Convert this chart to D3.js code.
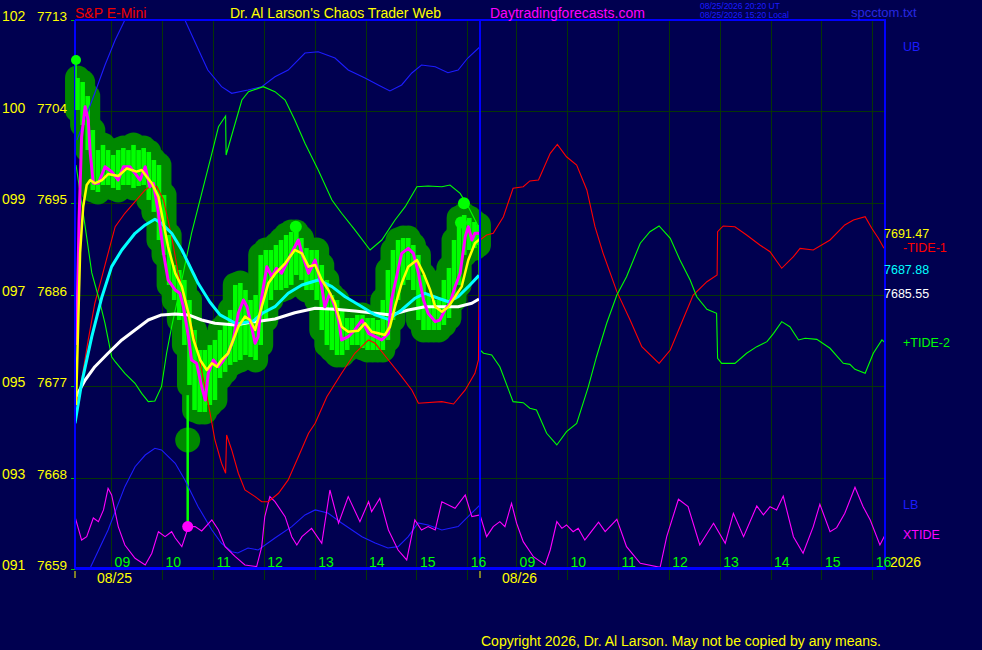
<!DOCTYPE html>
<html>
<head>
<meta charset="utf-8">
<script src="https://cdn.jsdelivr.net/npm/d3@7"></script>
<style>
  html, body { margin: 0; padding: 0; background: #000050; }
  svg { display: block; font-family: "Liberation Sans", Arial, sans-serif; }
</style>
</head>
<body>
<svg id="chart" width="982" height="650"></svg>
<script>
const width = 982;
const height = 650;
const plot = { left: 75, right: 885, top: 20, bottom: 569 };

// session clock: chart opens 08:17, each day shows 7.96 hours
const sessionOpen = 8.29;
const dayLength = 7.96;

const days = ["08/25", "08/26"];
const hours = [9, 10, 11, 12, 13, 14, 15, 16];
const priceTicks = [7713, 7704, 7695, 7686, 7677, 7668, 7659];
const pctTicks = ["102", "100", "099", "097", "095", "093", "091"];
const lastLabels = ["7691.47", "7687.88", "7685.55"];

// [session hours, price]
const ub = [[0.04,7701.2],[0.39,7705.82],[0.59,7708.57],[0.79,7711.03],[0.98,7713.0],[1.28,7715.46],[1.67,7715.95],[2.16,7713.0],[2.49,7709.39],[2.61,7708.08],[2.88,7706.44],[3.08,7705.79],[3.40,7706.12],[3.67,7706.44],[3.93,7707.42],[4.19,7708.08],[4.52,7709.75],[4.78,7709.88],[5.11,7709.26],[5.37,7708.08],[5.70,7707.29],[5.96,7706.61],[6.19,7706.02],[6.42,7706.61],[6.62,7707.79],[6.81,7708.57],[7.08,7708.41],[7.33,7707.82],[7.53,7708.08],[7.72,7709.26],[7.96,7710.37]];

const lb = [[0.25,7658.71],[0.31,7659.23],[0.65,7662.84],[0.98,7667.10],[1.18,7669.06],[1.38,7670.21],[1.57,7670.87],[1.70,7670.71],[1.97,7669.40],[2.16,7667.76],[2.42,7665.13],[2.69,7662.84],[2.88,7661.53],[3.08,7660.70],[3.20,7660.58],[3.40,7661.07],[3.60,7660.87],[3.93,7662.05],[4.26,7663.17],[4.52,7664.32],[4.72,7664.81],[4.97,7664.51],[5.24,7663.53],[5.64,7662.18],[5.90,7661.56],[6.15,7661.07],[6.35,7661.20],[6.55,7662.18],[6.74,7663.53],[6.94,7663.33],[7.21,7662.84],[7.53,7663.17],[7.80,7664.51],[7.96,7665.30]];

const tide1 = [[0,7674.64],[0.13,7677.59],[0.26,7681.53],[0.39,7685.14],[0.53,7687.75],[0.65,7690.05],[0.79,7692.67],[0.98,7693.99],[1.18,7695.13],[1.38,7696.28],[1.51,7696.77],[1.61,7696.60],[1.74,7695.30],[1.90,7691.69],[2.03,7688.09],[2.23,7684.15],[2.42,7680.22],[2.62,7675.30],[2.75,7671.69],[2.88,7669.40],[2.96,7668.42],[2.98,7672.18],[3.08,7670.71],[3.21,7668.42],[3.34,7666.77],[3.54,7666.12],[3.67,7665.62],[3.80,7665.62],[4.00,7666.45],[4.19,7667.76],[4.39,7670.05],[4.59,7672.35],[4.72,7673.33],[4.95,7675.95],[5.24,7678.25],[5.50,7680.22],[5.77,7681.53],[5.90,7681.20],[6.16,7679.56],[6.42,7677.92],[6.62,7676.61],[6.75,7675.30],[7.21,7675.46],[7.44,7675.23],[7.67,7676.61],[7.86,7678.25],[7.93,7679.56],[7.95,7691.69],[7.96,7691.36],[8.09,7691.85],[8.22,7692.02],[8.42,7693.65],[8.61,7696.45],[8.81,7696.60],[8.94,7697.17],[9.11,7697.26],[9.34,7699.89],[9.48,7700.77],[9.66,7699.55],[9.86,7698.74],[10.06,7696.28],[10.22,7692.67],[10.38,7690.05],[10.65,7686.28],[10.91,7683.49],[11.14,7680.87],[11.48,7679.23],[11.70,7680.54],[11.89,7682.83],[12.15,7685.95],[12.42,7687.26],[12.62,7687.92],[12.63,7692.18],[12.74,7692.74],[12.97,7692.67],[13.20,7691.85],[13.46,7690.87],[13.66,7690.21],[13.89,7688.58],[14.12,7689.72],[14.25,7690.54],[14.51,7690.38],[14.84,7691.36],[15.13,7692.84],[15.30,7693.33],[15.53,7693.65],[15.66,7692.51],[15.79,7691.53],[15.90,7690.54]];

const tide2 = [[0.02,7698.74],[0.20,7692.67],[0.33,7688.12],[0.46,7685.78],[0.59,7683.17],[0.72,7679.88],[0.79,7679.39],[0.98,7678.25],[1.18,7677.27],[1.31,7676.28],[1.44,7675.46],[1.57,7675.53],[1.70,7676.93],[1.80,7680.22],[1.90,7682.83],[2.10,7687.43],[2.29,7692.02],[2.49,7695.95],[2.69,7699.89],[2.82,7702.50],[2.96,7703.56],[2.97,7699.72],[3.11,7702.18],[3.28,7705.13],[3.41,7705.95],[3.70,7706.44],[3.93,7705.95],[4.13,7705.13],[4.32,7703.16],[4.52,7700.87],[4.78,7698.25],[5.05,7695.30],[5.24,7693.99],[5.50,7692.35],[5.80,7690.38],[6.03,7691.36],[6.29,7693.33],[6.49,7694.64],[6.72,7696.60],[6.94,7696.67],[7.21,7696.60],[7.37,7696.77],[7.57,7695.95],[7.73,7694.64],[7.93,7692.67],[7.96,7680.54],[8.03,7680.22],[8.19,7680.05],[8.35,7678.90],[8.61,7675.46],[8.81,7675.36],[8.94,7674.81],[9.07,7674.64],[9.27,7672.35],[9.47,7671.20],[9.66,7672.51],[9.86,7673.33],[10.09,7676.93],[10.25,7679.88],[10.45,7683.17],[10.65,7685.95],[10.84,7687.75],[11.11,7691.04],[11.30,7692.18],[11.48,7692.74],[11.70,7691.53],[11.89,7689.39],[12.09,7687.43],[12.22,7685.78],[12.42,7684.54],[12.61,7684.15],[12.63,7679.73],[12.71,7679.23],[12.97,7679.23],[13.20,7680.22],[13.40,7680.87],[13.60,7681.36],[13.73,7682.18],[13.89,7683.33],[14.05,7682.83],[14.22,7681.53],[14.35,7681.69],[14.58,7681.59],[14.84,7680.71],[15.10,7679.23],[15.23,7679.13],[15.33,7678.64],[15.53,7678.25],[15.69,7680.22],[15.86,7681.53],[15.92,7681.26]];

const xtide = [[0,7664.15],[0.13,7661.85],[0.23,7662.18],[0.36,7664.02],[0.46,7663.66],[0.56,7664.81],[0.65,7666.94],[0.72,7666.28],[0.85,7663.17],[0.98,7661.36],[1.18,7660.05],[1.38,7659.40],[1.51,7660.55],[1.64,7662.67],[1.77,7662.18],[1.90,7662.67],[1.97,7662.05],[2.10,7661.20],[2.23,7663.17],[2.36,7663.17],[2.49,7662.74],[2.69,7663.82],[2.82,7662.84],[2.95,7661.20],[3.15,7660.21],[3.34,7659.40],[3.57,7659.23],[3.67,7661.20],[3.73,7664.15],[3.83,7666.12],[3.93,7665.62],[4.13,7664.15],[4.26,7662.18],[4.36,7661.36],[4.46,7662.18],[4.65,7663.00],[4.85,7661.53],[5.01,7666.77],[5.18,7663.50],[5.37,7666.12],[5.60,7663.66],[5.77,7665.62],[5.83,7664.64],[5.99,7665.95],[6.16,7662.84],[6.35,7660.87],[6.52,7659.89],[6.68,7663.82],[6.81,7662.84],[6.94,7663.17],[7.08,7662.84],[7.21,7665.62],[7.47,7664.97],[7.67,7666.28],[7.80,7664.15],[7.96,7664.32],[8.09,7662.18],[8.22,7663.17],[8.35,7663.66],[8.45,7663.17],[8.58,7665.46],[8.68,7663.50],[8.81,7661.69],[9.01,7660.21],[9.24,7659.40],[9.34,7660.87],[9.47,7663.66],[9.57,7663.00],[9.66,7663.33],[9.79,7662.67],[9.89,7663.00],[10.02,7661.85],[10.12,7662.51],[10.29,7663.60],[10.42,7662.67],[10.65,7663.89],[10.84,7661.20],[11.11,7659.56],[11.50,7659.17],[11.63,7662.18],[11.86,7665.86],[12.05,7665.13],[12.28,7661.36],[12.55,7663.50],[12.78,7661.53],[12.94,7664.48],[13.14,7662.18],[13.40,7665.20],[13.53,7664.32],[13.66,7665.13],[13.79,7664.81],[13.92,7666.18],[14.12,7662.18],[14.31,7660.55],[14.51,7663.17],[14.64,7665.37],[14.84,7662.67],[14.97,7663.07],[15.13,7664.48],[15.33,7667.04],[15.49,7665.13],[15.63,7663.82],[15.82,7661.36],[15.92,7662.35]];

const maSlow = [[0,7675.79],[0.20,7677.59],[0.39,7678.90],[0.65,7680.22],[0.92,7681.53],[1.18,7682.51],[1.44,7683.49],[1.70,7683.99],[1.97,7684.08],[2.23,7683.99],[2.49,7683.49],[2.75,7683.17],[3.15,7683.00],[3.54,7683.33],[3.93,7683.59],[4.32,7684.21],[4.72,7684.64],[5.11,7684.54],[5.50,7684.38],[5.90,7684.15],[6.22,7683.99],[6.55,7684.48],[6.88,7684.80],[7.21,7684.80],[7.53,7684.80],[7.80,7685.14],[7.94,7685.55]];

const maMid = [[0,7673.33],[0.13,7677.26],[0.33,7681.85],[0.53,7685.78],[0.72,7688.74],[0.92,7690.38],[1.18,7692.02],[1.38,7692.84],[1.57,7693.40],[1.70,7693.00],[1.90,7692.02],[2.10,7690.38],[2.26,7688.74],[2.42,7687.10],[2.65,7685.26],[2.85,7683.99],[3.18,7683.10],[3.50,7683.39],[3.69,7684.18],[3.93,7684.80],[4.19,7686.12],[4.46,7686.94],[4.78,7687.43],[5.05,7686.77],[5.31,7685.78],[5.64,7684.80],[5.90,7683.99],[6.16,7683.56],[6.42,7684.48],[6.68,7685.63],[6.88,7686.12],[7.14,7685.63],[7.34,7685.29],[7.53,7685.78],[7.73,7686.77],[7.94,7687.88]];

const maFast = [[0.02,7675.13],[0.065,7683.49],[0.10,7690.08],[0.16,7694.60],[0.23,7696.77],[0.30,7697.26],[0.39,7696.94],[0.53,7697.26],[0.65,7697.85],[0.85,7697.66],[1.02,7698.41],[1.11,7698.25],[1.21,7698.08],[1.31,7698.25],[1.41,7697.59],[1.51,7696.94],[1.64,7695.62],[1.74,7693.00],[1.83,7690.70],[1.97,7688.09],[2.10,7686.77],[2.23,7684.15],[2.33,7681.53],[2.46,7679.56],[2.59,7678.58],[2.69,7679.23],[2.79,7678.90],[2.88,7679.56],[3.01,7680.22],[3.11,7681.53],[3.21,7682.83],[3.34,7683.82],[3.44,7683.49],[3.54,7682.51],[3.67,7684.80],[3.80,7687.10],[3.93,7688.02],[4.13,7689.07],[4.32,7690.38],[4.46,7690.05],[4.59,7688.74],[4.72,7688.90],[4.85,7687.43],[4.98,7686.44],[5.11,7685.14],[5.24,7682.83],[5.37,7682.34],[5.57,7682.44],[5.70,7683.17],[5.83,7682.34],[5.96,7682.18],[6.09,7682.02],[6.19,7682.83],[6.29,7684.80],[6.42,7687.10],[6.55,7688.74],[6.72,7689.39],[6.85,7688.09],[6.98,7686.44],[7.08,7684.80],[7.21,7684.31],[7.34,7684.80],[7.47,7685.78],[7.60,7686.77],[7.73,7689.39],[7.86,7691.04],[7.96,7691.47]];

const closeLine = [[0.03,7681.03],[0.08,7693.33],[0.13,7701.52],[0.20,7704.47],[0.26,7703.16],[0.30,7699.89],[0.36,7696.94],[0.46,7696.94],[0.59,7698.57],[0.72,7698.08],[0.85,7697.26],[0.95,7698.57],[1.08,7698.57],[1.18,7697.92],[1.28,7697.26],[1.38,7698.57],[1.47,7696.60],[1.54,7696.94],[1.64,7693.99],[1.74,7690.05],[1.83,7687.43],[1.97,7686.44],[2.06,7686.12],[2.13,7684.80],[2.23,7681.85],[2.29,7679.56],[2.39,7679.23],[2.49,7676.93],[2.56,7675.62],[2.62,7678.25],[2.72,7679.56],[2.82,7678.90],[2.92,7679.56],[3.01,7680.22],[3.11,7681.53],[3.21,7684.15],[3.31,7685.46],[3.38,7684.80],[3.47,7682.83],[3.54,7681.20],[3.60,7681.85],[3.67,7685.78],[3.77,7688.74],[3.87,7687.75],[3.96,7688.58],[4.06,7688.09],[4.19,7689.39],[4.32,7690.70],[4.39,7691.36],[4.46,7690.05],[4.59,7688.09],[4.72,7689.39],[4.85,7686.77],[4.91,7684.80],[5.01,7686.12],[5.11,7684.80],[5.18,7683.49],[5.24,7681.53],[5.37,7681.85],[5.50,7682.51],[5.64,7683.49],[5.77,7682.18],[5.90,7681.85],[6.03,7681.53],[6.16,7682.18],[6.22,7685.46],[6.32,7687.75],[6.42,7690.05],[6.55,7690.54],[6.65,7690.05],[6.75,7688.09],[6.85,7685.46],[6.94,7684.15],[7.08,7683.33],[7.17,7683.49],[7.27,7684.48],[7.37,7685.14],[7.47,7686.77],[7.57,7688.09],[7.67,7691.69],[7.73,7692.67],[7.80,7691.36],[7.86,7692.02],[7.96,7692.02]];

// [session hours, high, low]
const bars = [[0.05,7707.30,7704.15],[0.15,7706.90,7702.67],[0.25,7705.52,7700.21],[0.35,7702.18,7696.28],[0.45,7700.21,7696.08],[0.55,7700.71,7696.77],[0.65,7700.21,7696.77],[0.75,7699.72,7696.48],[0.85,7700.21,7696.28],[0.95,7700.41,7696.77],[1.05,7700.21,7696.77],[1.15,7700.71,7696.48],[1.25,7700.21,7696.67],[1.35,7700.41,7696.77],[1.45,7700.02,7695.30],[1.55,7699.23,7694.12],[1.65,7698.74,7691.36],[1.75,7695.79,7689.89],[1.85,7691.85,7686.94],[1.95,7688.90,7685.46],[2.05,7688.41,7683.49],[2.15,7687.43,7681.03],[2.25,7685.46,7677.10],[2.35,7682.51,7674.64],[2.45,7680.54,7674.44],[2.55,7680.54,7674.44],[2.65,7681.03,7675.13],[2.75,7681.53,7675.62],[2.85,7682.51,7677.79],[2.95,7683.00,7678.38],[3.05,7684.48,7679.07],[3.15,7686.94,7679.36],[3.25,7687.13,7679.56],[3.35,7686.44,7680.05],[3.45,7685.46,7679.85],[3.55,7685.95,7679.56],[3.65,7689.89,7681.03],[3.75,7690.38,7683.49],[3.85,7690.38,7685.46],[3.95,7690.87,7686.44],[4.05,7691.36,7686.44],[4.15,7691.85,7686.64],[4.25,7692.15,7686.94],[4.35,7692.15,7687.92],[4.45,7691.56,7687.43],[4.55,7690.57,7686.44],[4.65,7690.38,7686.44],[4.75,7690.38,7685.46],[4.85,7688.90,7682.51],[4.95,7687.43,7681.03],[5.05,7685.95,7680.54],[5.15,7685.46,7680.05],[5.25,7684.48,7680.05],[5.35,7683.69,7680.54],[5.45,7683.69,7681.03],[5.55,7683.99,7681.03],[5.65,7683.99,7680.74],[5.75,7683.69,7680.54],[5.85,7683.69,7680.54],[5.95,7683.49,7680.54],[6.05,7685.46,7680.54],[6.15,7688.41,7681.53],[6.25,7690.38,7683.49],[6.35,7691.36,7685.46],[6.45,7691.56,7686.94],[6.55,7691.56,7687.43],[6.65,7690.87,7686.44],[6.75,7689.89,7683.49],[6.85,7687.92,7682.51],[6.95,7685.95,7682.51],[7.05,7685.46,7682.51],[7.15,7685.46,7682.51],[7.25,7687.43,7683.00],[7.35,7688.61,7683.69],[7.45,7691.36,7685.46],[7.55,7693.53,7686.94],[7.65,7693.82,7689.89],[7.75,7693.53,7690.38],[7.85,7693.13,7690.57],[7.93,7692.84,7690.87]];

// highlighted highs: [session hours, price]
const markers = [[0.02,7709.07],[4.34,7692.67],[7.645,7694.97],[7.586,7693.07]];
// time marker: [session hours, stem top, ring, dot]
const timeMark = [2.215, 7676.1, 7671.69, 7663.17];

const svg = d3.select("#chart").attr("viewBox", [0, 0, width, height]);
svg.append("rect").attr("width", width).attr("height", height).attr("fill", "#000050");

const x = d3.scaleLinear().domain([0, 2 * dayLength]).range([plot.left, plot.right]);
const y = d3.scaleLinear().domain([7659, 7713]).range([plot.bottom, plot.top]);
const line = d3.line().x((d) => x(d[0])).y((d) => y(d[1]));

const hourTicks = days.flatMap((day, i) =>
  hours.map((h) => ({ h, t: i * dayLength + h - sessionOpen })),
);

svg.append("defs").append("clipPath").attr("id", "plotClip")
  .append("rect")
  .attr("x", plot.left).attr("y", plot.top)
  .attr("width", plot.right - plot.left).attr("height", plot.bottom - plot.top);

// grid
const grid = svg.append("g").attr("stroke", "#063406").attr("shape-rendering", "crispEdges");
grid.selectAll("line.h").data(priceTicks).join("line")
  .attr("class", "h")
  .attr("x1", plot.left).attr("x2", plot.right)
  .attr("y1", (d) => Math.round(y(d)) + 0.5).attr("y2", (d) => Math.round(y(d)) + 0.5);
grid.selectAll("line.v").data(hourTicks).join("line")
  .attr("class", "v")
  .attr("x1", (d) => Math.round(x(d.t)) + 0.5).attr("x2", (d) => Math.round(x(d.t)) + 0.5)
  .attr("y1", plot.top).attr("y2", 580);

// green tick stubs on the price axis
svg.append("g").attr("stroke", "#00c000")
  .selectAll("line").data(priceTicks).join("line")
  .attr("x1", 71).attr("x2", plot.left)
  .attr("y1", (d) => Math.round(y(d)) + 0.5).attr("y2", (d) => Math.round(y(d)) + 0.5);

// price bars: dark halo, then bright range bars
const barLayer = svg.append("g");
barLayer.selectAll("line.halo").data(bars).join("line")
  .attr("class", "halo")
  .attr("x1", (d) => x(d[0])).attr("x2", (d) => x(d[0]))
  .attr("y1", (d) => y(d[1])).attr("y2", (d) => y(d[2]))
  .attr("stroke", "#008800").attr("stroke-width", 25).attr("stroke-linecap", "round");
barLayer.selectAll("line.range").data(bars).join("line")
  .attr("class", "range")
  .attr("x1", (d) => x(d[0])).attr("x2", (d) => x(d[0]))
  .attr("y1", (d) => y(d[1])).attr("y2", (d) => y(d[2]))
  .attr("stroke", "#00ff00").attr("stroke-width", 4.6);

// time marker
const tm = svg.append("g");
tm.append("circle").attr("cx", x(timeMark[0])).attr("cy", y(timeMark[2])).attr("r", 12.5).attr("fill", "#008800");
tm.append("line")
  .attr("x1", x(timeMark[0])).attr("x2", x(timeMark[0]))
  .attr("y1", y(timeMark[1])).attr("y2", y(timeMark[3]))
  .attr("stroke", "#00ff00").attr("stroke-width", 2.5);
tm.append("circle").attr("cx", x(timeMark[0])).attr("cy", y(timeMark[3])).attr("r", 5.5).attr("fill", "#ff00ff");

// thin cycle lines
const thin = svg.append("g").attr("clip-path", "url(#plotClip)").attr("fill", "none").attr("stroke-width", 1.1);
thin.append("path").datum(ub).attr("d", line).attr("stroke", "#1c1cff");
thin.append("path").datum(lb).attr("d", line).attr("stroke", "#1c1cff");
thin.append("path").datum(xtide).attr("d", line).attr("stroke", "#ff00ff");
thin.append("path").datum(tide1).attr("d", line).attr("stroke", "#ff0000");
thin.append("path").datum(tide2).attr("d", line).attr("stroke", "#00ff00");

// averages and close
const ma = svg.append("g").attr("clip-path", "url(#plotClip)").attr("fill", "none")
  .attr("stroke-linejoin", "round");
ma.append("path").datum(maSlow).attr("d", line).attr("stroke", "#ffffff").attr("stroke-width", 3);
ma.append("path").datum(maMid).attr("d", line).attr("stroke", "#00ffff").attr("stroke-width", 3);
ma.append("path").datum(closeLine).attr("d", line).attr("stroke", "#ff00ff").attr("stroke-width", 3);
ma.append("path").datum(maFast).attr("d", line).attr("stroke", "#ffff00").attr("stroke-width", 2.5);

// frame
const frame = svg.append("g").attr("stroke", "#0000ff").attr("shape-rendering", "crispEdges");
frame.append("line").attr("x1", plot.left).attr("x2", plot.right + 1).attr("y1", plot.top).attr("y2", plot.top).attr("stroke-width", 2);
frame.append("line").attr("x1", plot.left).attr("x2", plot.right + 1).attr("y1", plot.bottom - 0.5).attr("y2", plot.bottom - 0.5).attr("stroke-width", 3);
frame.selectAll("line.vb").data([0, dayLength, 2 * dayLength]).join("line")
  .attr("class", "vb")
  .attr("x1", (d) => x(d)).attr("x2", (d) => x(d))
  .attr("y1", plot.top).attr("y2", plot.bottom)
  .attr("stroke-width", 2);

// highlighted highs (drawn over frame)
svg.append("line")
  .attr("x1", x(markers[0][0])).attr("x2", x(markers[0][0]))
  .attr("y1", y(markers[0][1])).attr("y2", y(bars[0][2]))
  .attr("stroke", "#00ff00").attr("stroke-width", 1.5);
svg.append("g").selectAll("circle").data(markers).join("circle")
  .attr("cx", (d) => x(d[0])).attr("cy", (d) => y(d[1]))
  .attr("r", (d, i) => (i === 0 ? 5 : 6))
  .attr("fill", "#00ff00");

// day ticks below axis
svg.append("g").attr("stroke", "#ffff00")
  .selectAll("line").data(days).join("line")
  .attr("x1", (d, i) => x(i * dayLength)).attr("x2", (d, i) => x(i * dayLength))
  .attr("y1", 571).attr("y2", 578);

// text
const txt = svg.append("g").attr("font-size", 14);
txt.selectAll("text.pct").data(pctTicks).join("text")
  .attr("class", "pct")
  .attr("x", 2).attr("y", (d, i) => y(priceTicks[i]) + 1)
  .attr("fill", "#ffff00").text((d) => d);
txt.selectAll("text.price").data(priceTicks).join("text")
  .attr("class", "price")
  .attr("x", 37).attr("y", (d) => y(d) + 1)
  .attr("fill", "#ffff00").attr("font-size", 13.5).text((d) => d);

txt.selectAll("text.hour").data(hourTicks).join("text")
  .attr("class", "hour")
  .attr("x", (d) => x(d.t) + 3.5).attr("y", 567)
  .attr("fill", "#00ff00").text((d) => String(d.h).padStart(2, "0"));
txt.selectAll("text.day").data(days).join("text")
  .attr("class", "day")
  .attr("x", (d, i) => x(i * dayLength) + 22).attr("y", 583)
  .attr("fill", "#ffff00").text((d) => d);
txt.append("text").attr("x", 890).attr("y", 567).attr("fill", "#ffff00").text("2026");

// header
txt.append("text").attr("x", 75).attr("y", 18).attr("fill", "#f00000").text("S&P E-Mini");
txt.append("text").attr("x", 230).attr("y", 18).attr("fill", "#ffff00").text("Dr. Al Larson's Chaos Trader Web");
txt.append("text").attr("x", 490).attr("y", 18).attr("fill", "#ff00ff").text("Daytradingforecasts.com");
txt.append("text").attr("x", 700).attr("y", 8.5).attr("font-size", 8.5).attr("fill", "#1c1cff").text("08/25/2026 20:20 UT");
txt.append("text").attr("x", 700).attr("y", 18).attr("font-size", 8.5).attr("fill", "#1c1cff").text("08/25/2026 15:20 Local");
txt.append("text").attr("x", 851).attr("y", 17).attr("font-size", 13).attr("fill", "#2828e0").text("spcctom.txt");

// right side legend at each series' last value
const lastColors = ["#ffff00", "#00ffff", "#ffffff"];
txt.selectAll("text.last").data(lastLabels).join("text")
  .attr("class", "last")
  .attr("x", 884).attr("y", (d) => y(+d) - 1)
  .attr("font-size", 12.5).attr("fill", (d, i) => lastColors[i]).text((d) => d);
const names = [
  ["UB", ub, "#1c1cff"],
  ["-TIDE-1", tide1, "#ff0000"],
  ["+TIDE-2", tide2, "#00ff00"],
  ["LB", lb, "#1c1cff"],
  ["XTIDE", xtide, "#ff00ff"],
];
txt.selectAll("text.name").data(names).join("text")
  .attr("class", "name")
  .attr("x", 903).attr("y", (d) => y(d[1].at(-1)[1]) + 4)
  .attr("font-size", 12.5).attr("fill", (d) => d[2]).text((d) => d[0]);

txt.append("text").attr("x", 481).attr("y", 646).attr("fill", "#ffff00")
  .text("Copyright 2026, Dr. Al Larson. May not be copied by any means.");
</script>
</body>
</html>
